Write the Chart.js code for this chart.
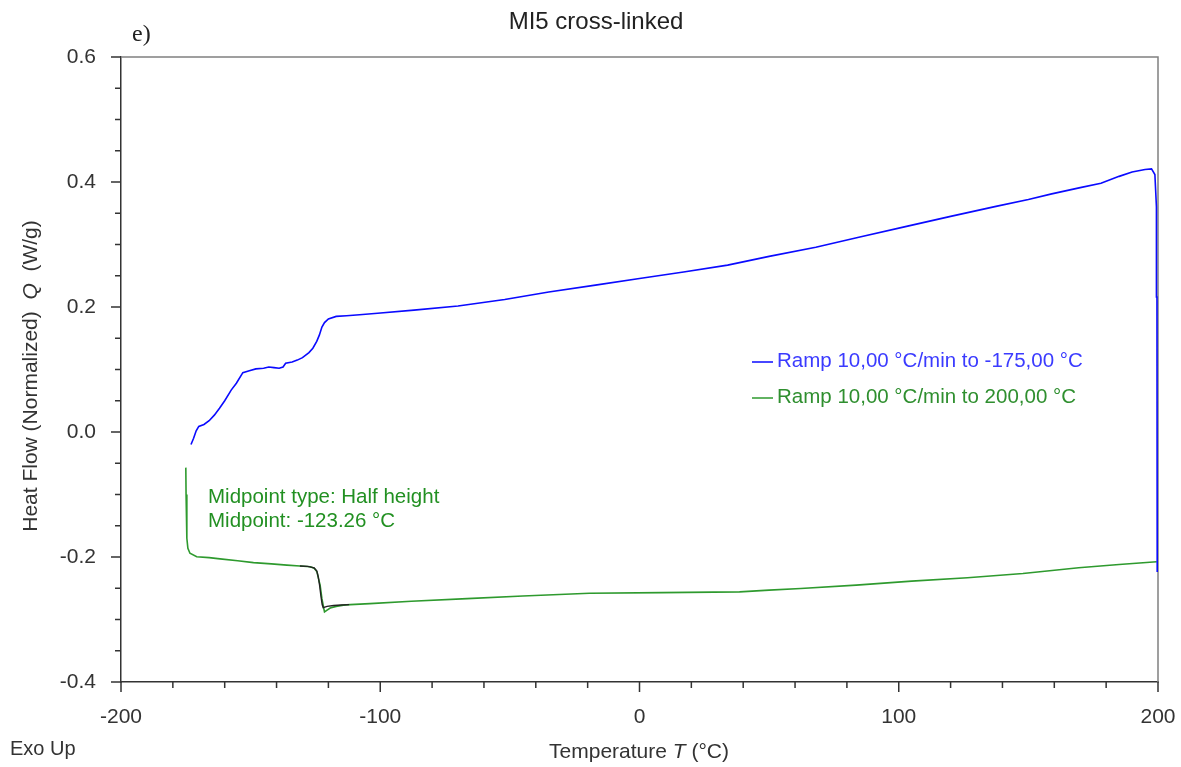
<!DOCTYPE html>
<html lang="en">
<head>
<meta charset="UTF-8">
<title>MI5 cross-linked</title>
<script src="https://cdn.jsdelivr.net/npm/chart.js"></script>
<style>
  body { margin: 0; background: #fff; }
  canvas { display: block; }
</style>
</head>
<body>
<canvas id="dsc" width="1181" height="767"></canvas>
<script>
// cooling ramp, 200 -> -175 °C
const coolTemp = [199.7, 199.6, 199.4, 198.8, 197.5, 195, 190, 185, 178, 170, 159, 150, 137.5, 120, 103, 85, 68, 50, 34, 17, 0,
  -17, -35, -52, -70, -87, -101, -108, -113, -117, -120, -121.5, -122.5, -123.5, -124.5, -126, -127.5, -130, -132, -134,
  -136.5, -137.5, -139, -141, -143, -145, -148, -150.5, -153, -155.5, -157.5, -160, -162, -164, -166, -168, -170, -171, -172, -173];
const coolFlow = [-0.224, 0.216, 0.36, 0.412, 0.421, 0.420, 0.416, 0.409, 0.398, 0.391, 0.381, 0.372, 0.361, 0.345, 0.329, 0.312, 0.2955, 0.281, 0.267, 0.256, 0.2455,
  0.235, 0.224, 0.212, 0.2015, 0.195, 0.19, 0.1877, 0.186, 0.185, 0.181, 0.175, 0.168, 0.155, 0.145, 0.134, 0.127, 0.119, 0.115, 0.112,
  0.110, 0.104, 0.102, 0.103, 0.104, 0.102, 0.101, 0.098, 0.095, 0.078, 0.067, 0.05, 0.038, 0.027, 0.018, 0.012, 0.009, 0.002, -0.01, -0.02];

// heating ramp, -175 -> 200 °C
const heatTemp = [-175, -174.9, -174.6, -174.2, -173.4, -170.8, -166, -161.8, -155, -148.9, -142, -136, -131, -127, -125.5, -124.4,
  -123.8, -123.2, -122.5, -121.8, -121.5, -120.5, -119.3, -117, -114.2, -111.6, -104, -88, -66.5, -45, -19.3, 8.5, 38.6, 50, 62.2,
  83.6, 105, 126.5, 147.9, 169.4, 185, 199.5];
const heatFlow = [-0.057, -0.10, -0.17, -0.186, -0.194, -0.1995, -0.201, -0.203, -0.206, -0.209, -0.211, -0.213, -0.2145, -0.2156, -0.218, -0.2236,
  -0.235, -0.245, -0.2666, -0.282, -0.288, -0.285, -0.2816, -0.279, -0.277, -0.2762, -0.2746, -0.2709, -0.2666, -0.2623, -0.258, -0.257, -0.2558, -0.253, -0.2505,
  -0.245, -0.2386, -0.2333, -0.2264, -0.2172, -0.212, -0.2076];

// glass transition evaluation segment
const fitTemp = [-131, -128, -125.5, -124.5, -123.9, -123.4, -122.9, -122.4, -122, -120.5, -118, -115, -112];
const fitFlow = [-0.2145, -0.215, -0.2175, -0.222, -0.232, -0.245, -0.262, -0.276, -0.281, -0.279, -0.2775, -0.2768, -0.2762];

const seriesNames = ['Ramp 10,00 °C/min to -175,00 °C', 'Ramp 10,00 °C/min to 200,00 °C'];
const midpointText = ['Midpoint type: Half height', 'Midpoint: -123.26 °C'];

const xLabels = [-200, -100, 0, 100, 200];
const yLabels = [-0.4, -0.2, 0.0, 0.2, 0.4, 0.6];

const BLUE = '#0a0aff', GREEN = '#2e9a2e';
const SANS = '"Liberation Sans", Arial, sans-serif';

function pts(xs, ys) { return xs.map((v, i) => ({x: v, y: ys[i]})); }
function isYLabel(v) { return yLabels.some(l => Math.abs(l - v) < 1e-6); }

// plot frame under the curves, tick marks and free text on top
const decor = {
  id: 'decor',
  beforeDatasetsDraw(chart) {
    const {ctx, chartArea: a} = chart;
    ctx.save();
    ctx.strokeStyle = '#808080';
    ctx.lineWidth = 1.5;
    ctx.beginPath();
    ctx.moveTo(a.left, a.top); ctx.lineTo(a.right, a.top); ctx.lineTo(a.right, a.bottom);
    ctx.stroke();
    ctx.restore();
  },
  afterDraw(chart) {
    const {ctx, chartArea: a, scales: {x, y}} = chart;
    ctx.save();
    ctx.strokeStyle = '#333';
    ctx.lineWidth = 1.5;
    ctx.beginPath();
    x.ticks.forEach(t => {
      const px = x.getPixelForValue(t.value);
      const len = xLabels.includes(t.value) ? 10 : 6;
      ctx.moveTo(px, a.bottom); ctx.lineTo(px, a.bottom + len);
    });
    y.ticks.forEach(t => {
      const py = y.getPixelForValue(t.value);
      const len = isYLabel(t.value) ? 10 : 6;
      ctx.moveTo(a.left, py); ctx.lineTo(a.left - len, py);
    });
    ctx.stroke();

    // title and panel letter
    ctx.fillStyle = '#222';
    ctx.textBaseline = 'alphabetic';
    ctx.textAlign = 'center';
    ctx.font = '24px ' + SANS;
    ctx.fillText('MI5 cross-linked', 596, 29);
    ctx.textAlign = 'left';
    ctx.font = '24px "Liberation Serif", "Times New Roman", serif';
    ctx.fillText('e)', 132, 41);

    // Exo Up
    ctx.fillStyle = '#333';
    ctx.font = '20px ' + SANS;
    ctx.fillText('Exo Up', 10, 755);

    // axis titles with italic symbols
    const drawParts = (parts, cx, cy) => {
      let w = 0;
      parts.forEach(p => { ctx.font = p[1] + ' 21px ' + SANS; w += ctx.measureText(p[0]).width; });
      let px = cx - w / 2;
      parts.forEach(p => {
        ctx.font = p[1] + ' 21px ' + SANS;
        ctx.fillText(p[0], px, cy);
        px += ctx.measureText(p[0]).width;
      });
    };
    drawParts([['Temperature ', 'normal'], ['T', 'italic'], [' (°C)', 'normal']], 639, 758);
    ctx.save();
    ctx.translate(37, 376);
    ctx.rotate(-Math.PI / 2);
    drawParts([['Heat Flow (Normalized)  ', 'normal'], ['Q', 'italic'], ['  (W/g)', 'normal']], 0, 0);
    ctx.restore();

    // legend
    ctx.font = '20.5px ' + SANS;
    [[BLUE, '#3b3bff', 362, 367], [GREEN, '#2f8f2f', 398, 403]].forEach((s, i) => {
      ctx.strokeStyle = s[0];
      ctx.lineWidth = 1.5;
      ctx.beginPath(); ctx.moveTo(752, s[2]); ctx.lineTo(773, s[2]); ctx.stroke();
      ctx.fillStyle = s[1];
      ctx.fillText(seriesNames[i], 777, s[3]);
    });

    // midpoint annotation
    ctx.fillStyle = '#229022';
    ctx.fillText(midpointText[0], 208, 503);
    ctx.fillText(midpointText[1], 208, 527);
    ctx.restore();
  }
};

new Chart(document.getElementById('dsc'), {
  type: 'line',
  data: {
    datasets: [
      {label: seriesNames[0], data: pts(coolTemp, coolFlow), borderColor: BLUE, borderWidth: 1.6, order: 1, clip: 6},
      {label: 'evaluation', data: pts(fitTemp, fitFlow), borderColor: '#222', borderWidth: 1.4, order: 2, clip: 6},
      {label: seriesNames[1], data: pts(heatTemp, heatFlow), borderColor: GREEN, borderWidth: 1.6, order: 3, clip: 6}
    ]
  },
  options: {
    responsive: false,
    animation: false,
    parsing: false,
    elements: {point: {radius: 0}, line: {tension: 0, fill: false}},
    layout: {padding: {top: 57, right: 23, left: 0, bottom: 0}},
    plugins: {legend: {display: false}, tooltip: {enabled: false}},
    scales: {
      x: {
        type: 'linear', min: -200, max: 200,
        grid: {display: false},
        border: {display: true, color: '#333', width: 1.5},
        ticks: {
          stepSize: 20, autoSkip: false, maxRotation: 0, padding: 15,
          color: '#333', font: {family: SANS, size: 21},
          callback: v => xLabels.includes(v) ? String(v) : ''
        },
        afterFit: s => { s.height = 85; s.paddingLeft = 0; s.paddingRight = 0; }
      },
      y: {
        type: 'linear', min: -0.4, max: 0.6,
        grid: {display: false},
        border: {display: true, color: '#333', width: 1.5},
        ticks: {
          stepSize: 0.05, autoSkip: false, padding: 17,
          color: '#333', font: {family: SANS, size: 21},
          callback: v => isYLabel(v) ? v.toFixed(1) : ''
        },
        afterFit: s => { s.width = 121; s.paddingTop = 0; s.paddingBottom = 0; }
      }
    }
  },
  plugins: [decor]
});
</script>
</body>
</html>
